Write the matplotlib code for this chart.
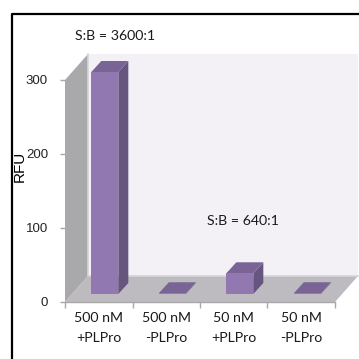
import matplotlib
matplotlib.use("Agg")
import matplotlib.pyplot as plt
from matplotlib.patches import Polygon
from matplotlib.lines import Line2D

categories = ["500 nM\n+PLPro", "500 nM\n-PLPro", "50 nM\n+PLPro", "50 nM\n-PLPro"]
values = [300, 1, 28, 1]
yticks = [0, 100, 200, 300]
annotations = [("S:B = 3600:1", 0.74, 359), ("S:B = 640:1", 2.64, 109)]

W = 359
fig = plt.figure(figsize=(W / 100, W / 100), dpi=100, facecolor="white")
L, R, B, T = 65, 335, 302, 80
ax = fig.add_axes([L / W, 1 - B / W, (R - L) / W, (B - T) / W])
ax.set_xlim(0, 4)
ax.set_ylim(0, 300)
ax.patch.set_visible(False)
for s in ax.spines.values():
    s.set_visible(False)
ax.spines["bottom"].set_visible(True)
ax.spines["bottom"].set_color("#a8a8a8")
ax.spines["bottom"].set_linewidth(1)

DX = 23 / 67.5          # depth offset, categories
DY = 26 / 0.74          # depth offset, RFU
top = 300

def poly(pts, color, z=1, ec="none", lw=0):
    ax.add_patch(Polygon(pts, closed=True, fc=color, ec=ec, lw=lw, zorder=z, clip_on=False))

# walls and floor
poly([(DX, DY), (4 + DX, DY), (4 + DX, top + DY), (DX, top + DY)], "#f3f1f6", 1)
poly([(0, 0), (DX, DY), (DX, top + DY), (0, top)], "#a9a8ab", 2)
poly([(0, 0), (4, 0), (4 + DX, DY), (DX, DY)], "#bdbbc0", 2)
ax.plot([DX, DX, 4 + DX], [top + DY, DY, DY], color="#d6d5d9", lw=1.2, zorder=3, clip_on=False)

# bars
bw = 27 / 67.5
offset = 0.39
fy = 8 / 0.74
bdx, bdy = 10 / 67.5, 11 / 0.74
for i, v in enumerate(values):
    x0 = i + offset
    x1 = x0 + bw
    poly([(x1, fy), (x1 + bdx, fy + bdy), (x1 + bdx, fy + bdy + v), (x1, fy + v)], "#66557f", 5)
    poly([(x0, fy + v), (x1, fy + v), (x1 + bdx, fy + v + bdy), (x0 + bdx, fy + v + bdy)], "#7a6496", 5)
    poly([(x0, fy), (x1, fy), (x1, fy + v), (x0, fy + v)], "#9278b0", 6)

# axes ticks and labels
ax.set_yticks(yticks)
ax.set_xticks(range(5))
ax.set_xticks([0.5, 1.5, 2.5, 3.5], minor=True)
ax.set_xticklabels([])
ax.set_xticklabels(categories, minor=True, family="Lato", fontsize=10.2, linespacing=1.75, color="#1a1a1a")
ax.tick_params(axis="x", which="major", length=4, color="#a8a8a8", width=1, direction="out")
ax.tick_params(axis="x", which="minor", length=0, pad=7.5)
ax.tick_params(axis="y", length=3.6, color="#a8a8a8", width=1, pad=8.6, labelcolor="#222222")
for t in ax.get_yticklabels():
    t.set_family("Liberation Sans")
    t.set_fontsize(9.5)
ax.set_zorder(2)
ax.set_ylabel("RFU", family="Liberation Sans", fontsize=11, color="black", labelpad=0)
ax.yaxis.set_label_coords((27 - L) / (R - L), (B - 166.5) / (B - T))

for s, x, y in annotations:
    ax.text(x, y, s, family="Lato", fontsize=10.2, color="#1a1a1a", ha="center", va="center", clip_on=False)

# outer frame
fig.add_artist(Line2D([11.5 / W, 11.5 / W, 1], [0, 1 - 13.5 / W, 1 - 13.5 / W], color="black", lw=1.6))

fig.savefig("out.png", dpi=100, facecolor="white")
